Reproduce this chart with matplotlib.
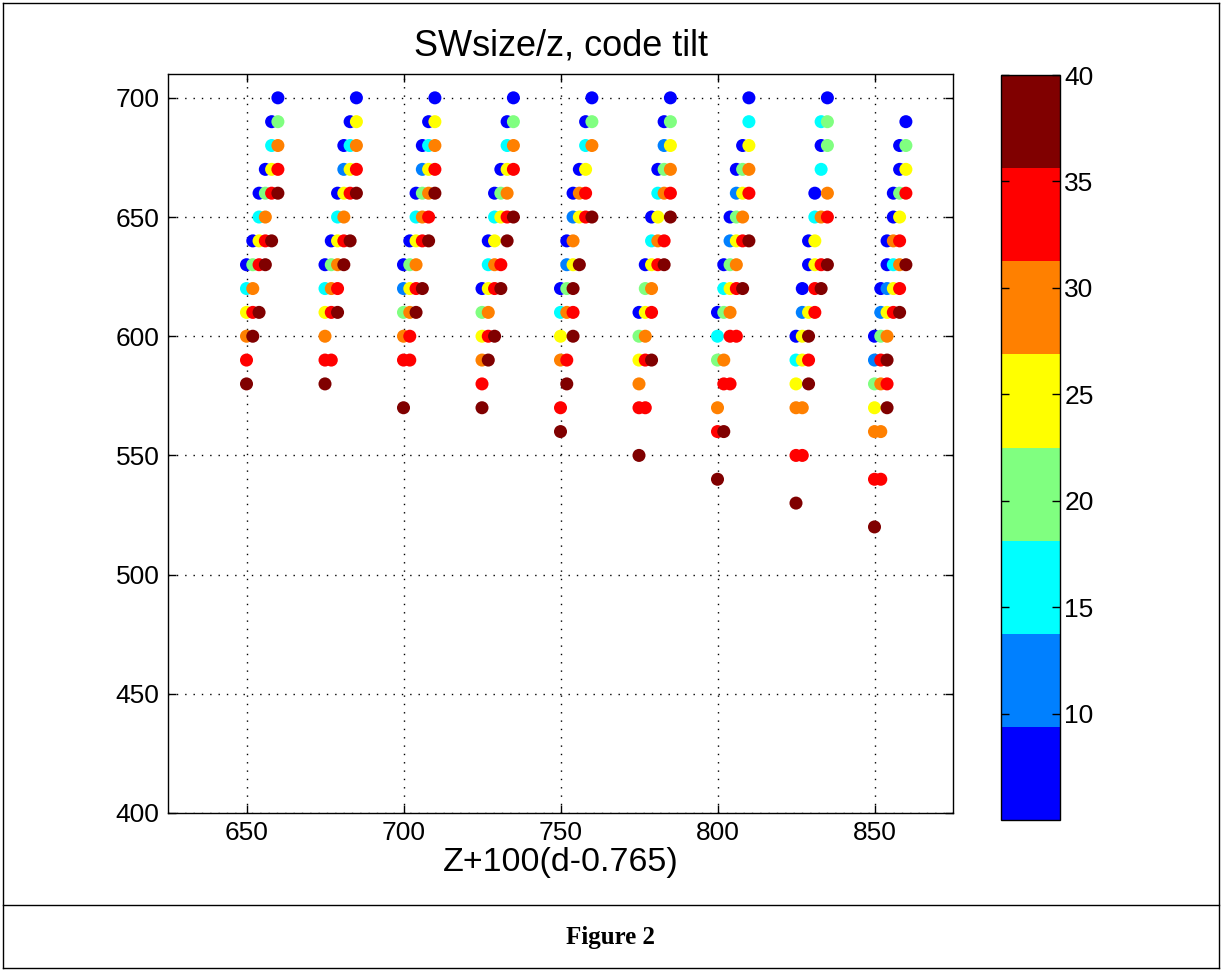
import matplotlib
matplotlib.use("Agg")
import matplotlib.pyplot as plt
from matplotlib.colors import ListedColormap, Normalize
from matplotlib.lines import Line2D
import numpy as np

plt.rcParams['font.family'] = ['Liberation Sans', 'DejaVu Sans']

# ---------------- data ----------------
group_z = [650, 675, 700, 725, 750, 775, 800, 825, 850]
tilt_levels = [5, 10, 15, 20, 25, 30, 35, 40]
x_ticks = [650, 700, 750, 800, 850]
y_ticks = [400, 450, 500, 550, 600, 650, 700]
cbar_ticks = [10, 15, 20, 25, 30, 35, 40]

# each row: (SWsize/z, d-offsets 100(d-0.765), tilt values)
grp_650 = [(700, [10], [5]), (690, [8, 10], [5, 20]), (680, [8, 10], [15, 30]),
           (670, [6, 8, 10], [5, 25, 35]), (660, [4, 6, 8, 10], [5, 20, 35, 40]),
           (650, [4, 6], [15, 30]), (640, [2, 4, 6, 8], [5, 25, 35, 40]),
           (630, [0, 2, 4, 6], [5, 20, 35, 40]), (620, [0, 2], [15, 30]),
           (610, [0, 2, 4], [25, 35, 40]), (600, [0, 2], [30, 40]),
           (590, [0], [35]), (580, [0], [40])]
grp_675 = [(700, [10], [5]), (690, [8, 10], [5, 25]), (680, [6, 8, 10], [5, 15, 30]),
           (670, [6, 8, 10], [10, 25, 35]), (660, [4, 6, 8, 10], [5, 25, 35, 40]),
           (650, [4, 6], [15, 30]), (640, [2, 4, 6, 8], [5, 25, 35, 40]),
           (630, [0, 2, 4, 6], [5, 20, 30, 40]), (620, [0, 2, 4], [15, 30, 35]),
           (610, [0, 2, 4], [25, 35, 40]), (600, [0], [30]),
           (590, [0, 2], [35, 35]), (580, [0], [40])]
grp_700 = [(700, [10], [5]), (690, [8, 10], [5, 25]), (680, [6, 8, 10], [5, 15, 30]),
           (670, [6, 8, 10], [10, 25, 35]), (660, [4, 6, 8, 10], [5, 20, 30, 40]),
           (650, [4, 6, 8], [15, 30, 35]), (640, [2, 4, 6, 8], [5, 25, 35, 40]),
           (630, [0, 2, 4], [5, 20, 30]), (620, [0, 2, 4, 6], [10, 25, 35, 40]),
           (610, [0, 2, 4], [20, 30, 40]), (600, [0, 2], [30, 35]),
           (590, [0, 2], [35, 35]), (570, [0], [40])]
grp_725 = [(700, [10], [5]), (690, [8, 10], [5, 20]), (680, [8, 10], [15, 30]),
           (670, [6, 8, 10], [5, 25, 35]), (660, [4, 6, 8], [5, 20, 30]),
           (650, [4, 6, 8, 10], [15, 25, 35, 40]), (640, [2, 4, 8], [5, 25, 40]),
           (630, [2, 4, 6], [15, 30, 35]), (620, [0, 2, 4, 6], [5, 25, 35, 40]),
           (610, [0, 2], [20, 30]), (600, [0, 2, 4], [25, 35, 40]),
           (590, [0, 2], [30, 40]), (580, [0], [35]), (570, [0], [40])]
grp_750 = [(700, [10], [5]), (690, [8, 10], [5, 20]), (680, [8, 10], [15, 30]),
           (670, [6, 8], [5, 25]), (660, [4, 6, 8], [5, 30, 35]),
           (650, [4, 6, 8, 10], [10, 25, 35, 40]), (640, [2, 4], [5, 30]),
           (630, [2, 4, 6], [10, 25, 40]), (620, [0, 2, 4], [5, 20, 40]),
           (610, [0, 2, 4], [15, 30, 35]), (600, [0, 4], [25, 40]),
           (590, [0, 2], [30, 35]), (580, [2], [40]), (570, [0], [35]), (560, [0], [40])]
grp_775 = [(700, [10], [5]), (690, [8, 10], [5, 20]), (680, [8, 10], [10, 25]),
           (670, [6, 8, 10], [5, 20, 30]), (660, [6, 8, 10], [15, 30, 35]),
           (650, [4, 6, 10], [5, 25, 40]), (640, [4, 6, 8], [15, 30, 35]),
           (630, [2, 4, 6, 8], [5, 25, 35, 40]), (620, [2, 4], [20, 30]),
           (610, [0, 2, 4], [5, 25, 35]), (600, [0, 2], [20, 30]),
           (590, [0, 2, 4], [25, 35, 40]), (580, [0], [30]),
           (570, [0, 2], [35, 35]), (550, [0], [40])]
grp_800 = [(700, [10], [5]), (690, [10], [15]), (680, [8, 10], [5, 25]),
           (670, [6, 8, 10], [5, 20, 30]), (660, [6, 8, 10], [10, 25, 35]),
           (650, [4, 6, 8], [5, 20, 30]), (640, [4, 6, 8, 10], [10, 25, 35, 40]),
           (630, [2, 4, 6], [5, 20, 30]), (620, [2, 4, 6, 8], [15, 25, 35, 40]),
           (610, [0, 2, 4], [5, 20, 30]), (600, [0, 4, 6], [15, 35, 35]),
           (590, [0, 2], [20, 30]), (580, [2, 4], [35, 35]), (570, [0], [30]),
           (560, [0, 2], [35, 40]), (540, [0], [40])]
grp_825 = [(700, [10], [5]), (690, [8, 10], [15, 20]), (680, [8, 10], [5, 20]),
           (670, [8], [15]), (660, [6, 10], [5, 30]),
           (650, [6, 8, 10], [15, 30, 35]), (640, [4, 6], [5, 25]),
           (630, [4, 6, 8, 10], [5, 25, 35, 40]), (620, [2, 6, 8], [5, 35, 40]),
           (610, [2, 4, 6], [10, 25, 35]), (600, [0, 2, 4], [5, 25, 40]),
           (590, [0, 2, 4], [15, 25, 35]), (580, [0, 4], [25, 40]),
           (570, [0, 2], [30, 30]), (550, [0, 2], [35, 35]), (530, [0], [40])]
grp_850 = [(690, [10], [5]), (680, [8, 10], [5, 20]), (670, [8, 10], [5, 25]),
           (660, [6, 8, 10], [5, 20, 35]), (650, [6, 8], [5, 25]),
           (640, [4, 6, 8], [5, 30, 35]), (630, [4, 6, 8, 10], [5, 15, 30, 40]),
           (620, [2, 4, 6, 8], [5, 10, 25, 35]), (610, [2, 4, 6, 8], [10, 25, 35, 40]),
           (600, [0, 2, 4], [5, 20, 30]), (590, [0, 2, 4], [10, 35, 40]),
           (580, [0, 2, 4], [20, 30, 35]), (570, [0, 4], [25, 40]),
           (560, [0, 2], [30, 30]), (540, [0, 2], [35, 35]), (520, [0], [40])]

groups = [grp_650, grp_675, grp_700, grp_725, grp_750, grp_775, grp_800, grp_825, grp_850]

# ---------------- figure ----------------
W, H, DPI = 1223, 971, 100
fig = plt.figure(figsize=(W / DPI, H / DPI), dpi=DPI)

ax = fig.add_axes([168 / W, 1 - 813 / H, (953 - 168) / W, (813 - 74) / H])

jet8 = ListedColormap([(0, 0, 1), (0, 0.5, 1), (0, 1, 1), (0.5, 1, 0.5),
                       (1, 1, 0), (1, 0.5, 0), (1, 0, 0), (0.5, 0, 0)])
norm = Normalize(vmin=min(tilt_levels), vmax=max(tilt_levels))

xs, ys, cs = [], [], []
for z, grp in zip(group_z, groups):
    for y, offs, tilts in grp:
        for o, t in zip(offs, tilts):
            xs.append(z + o)
            ys.append(y)
            cs.append(t)
xs, ys, cs = np.array(xs), np.array(ys), np.array(cs)
order = np.lexsort((ys, xs))
sc = ax.scatter(xs[order], ys[order], c=cs[order], cmap=jet8, norm=norm,
                s=88, marker='o', linewidths=0, zorder=3)

ax.set_xlim(625, 875)
ax.set_ylim(400, 710)
ax.set_xticks(x_ticks)
ax.set_yticks(y_ticks)
ax.grid(True, color='black', linestyle=(0, (1, 5)), linewidth=1.0)
ax.tick_params(direction='in', length=6, width=1, top=True, right=True,
               labelsize=19, pad=6)
for sp in ax.spines.values():
    sp.set_linewidth(1.0)
ax.set_title('SWsize/z, code tilt', fontsize=26, pad=13)
ax.set_xlabel('Z+100(d-0.765)', fontsize=24.5, labelpad=1)

# colorbar
cax = fig.add_axes([1001 / W, 1 - 820 / H, 59 / W, (820 - 75) / H])
cb = fig.colorbar(sc, cax=cax, ticks=cbar_ticks)
cb.outline.set_linewidth(1.0)
cax.tick_params(direction='in', length=6, width=1, left=True, right=True,
                labelsize=19, pad=3)

# document table frame
lines = [((3, 1219), (3, 3)), ((3, 1219), (905, 905)), ((3, 1219), (968, 968)),
         ((3, 3), (3, 968)), ((1219, 1219), (3, 968))]
for (x0, x1), (y0, y1) in lines:
    fig.add_artist(Line2D([x0 / W, x1 / W], [1 - y0 / H, 1 - y1 / H],
                          color='black', linewidth=1.0, transform=fig.transFigure))
fig.text(611 / W, 1 - 937 / H, 'Figure 2', ha='center', va='center',
         fontsize=18, fontweight='bold', family=['Liberation Serif', 'DejaVu Serif'])

fig.savefig('out.png', dpi=DPI)
